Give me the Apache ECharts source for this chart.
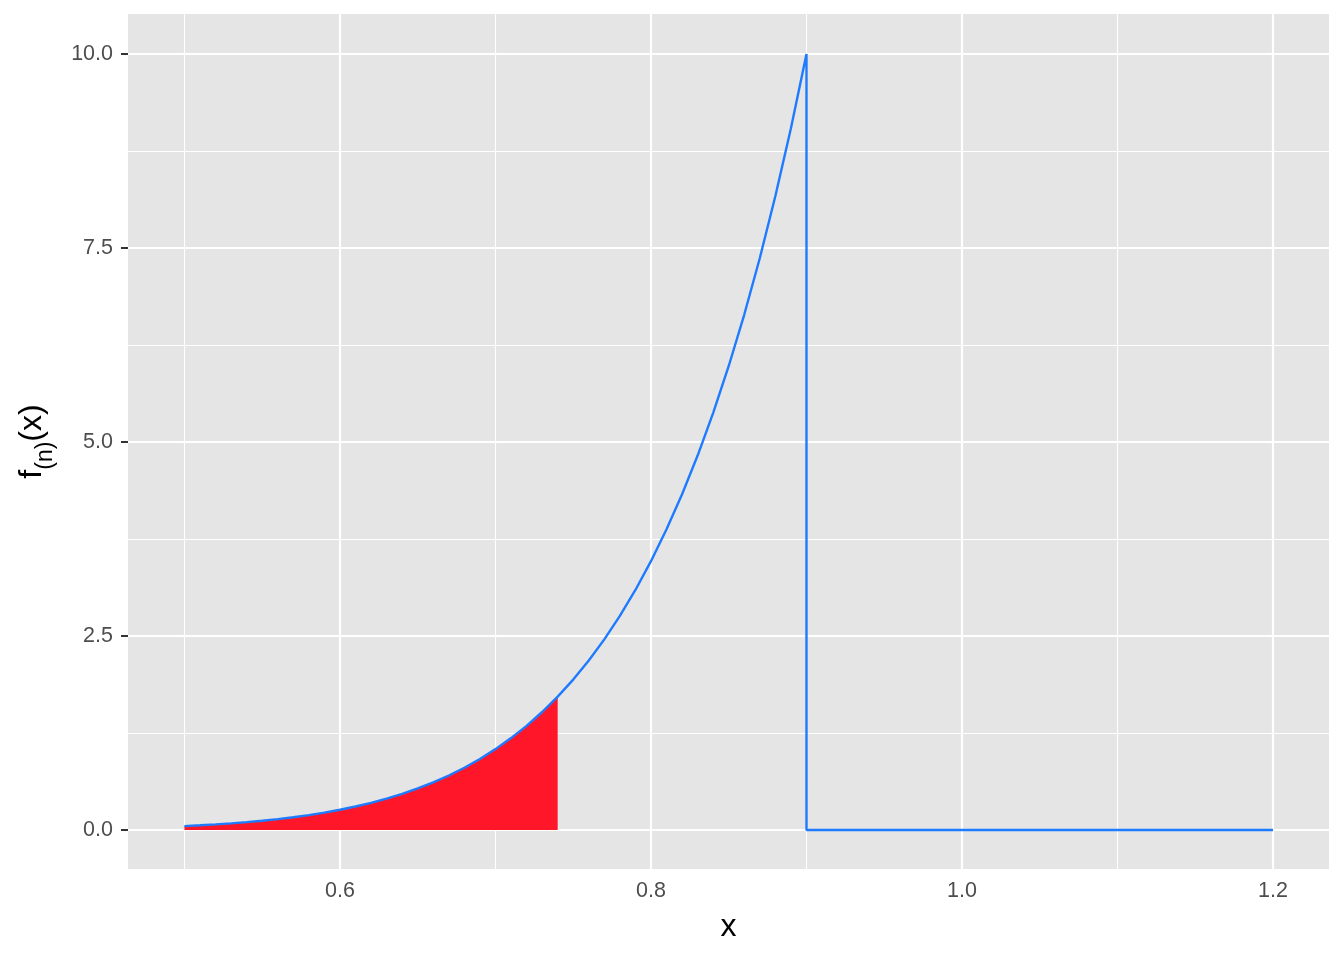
<!DOCTYPE html>
<html>
<head>
<meta charset="utf-8">
<script src="https://cdn.jsdelivr.net/npm/echarts@6/dist/echarts.min.js"></script>
<style>
  html, body { margin: 0; padding: 0; background: #fff; }
  #chart { width: 1344px; height: 960px; }
</style>
</head>
<body>
<div id="chart"></div>
<script>
// density curve, x = 0.50 .. 0.90 in steps of 0.01
var curveX = [0.50, 0.51, 0.52, 0.53, 0.54, 0.55, 0.56, 0.57, 0.58, 0.59,
              0.60, 0.61, 0.62, 0.63, 0.64, 0.65, 0.66, 0.67, 0.68, 0.69,
              0.70, 0.71, 0.72, 0.73, 0.74, 0.75, 0.76, 0.77, 0.78, 0.79,
              0.80, 0.81, 0.82, 0.83, 0.84, 0.85, 0.86, 0.87, 0.88, 0.89, 0.90];
var curveY = [0.050, 0.060, 0.072, 0.085, 0.101, 0.119, 0.140, 0.164, 0.192, 0.223,
              0.260, 0.302, 0.349, 0.404, 0.465, 0.535, 0.613, 0.702, 0.802, 0.915,
              1.042, 1.184, 1.342, 1.520, 1.718, 1.938, 2.183, 2.456, 2.759, 3.093,
              3.464, 3.874, 4.327, 4.825, 5.375, 5.979, 6.642, 7.370, 8.169, 9.043, 10.0];
// after the drop the density is zero
var tailX = [0.90, 1.20];
var tailY = [0, 0];
// shaded region ends here
var shadeEnd = 0.74;

var xTicks = [0.6, 0.8, 1.0, 1.2];
var xMinor = [0.5, 0.7, 0.9, 1.1];
var yTicks = [0, 2.5, 5.0, 7.5, 10.0];
var yMinor = [1.25, 3.75, 6.25, 8.75];

var linePts = curveX.map(function (x, i) { return [x, curveY[i]]; })
  .concat(tailX.map(function (x, i) { return [x, tailY[i]]; }));
var shadePts = [];
curveX.forEach(function (x, i) { if (x <= shadeEnd + 1e-9) shadePts.push([x, curveY[i]]); });
shadePts.push([shadeEnd, 0]);

var gridLines = [];
xMinor.forEach(function (v) { gridLines.push({ xAxis: v, lineStyle: { width: 1.1 } }); });
yMinor.forEach(function (v) { gridLines.push({ yAxis: v, lineStyle: { width: 1.1 } }); });
xTicks.forEach(function (v) { gridLines.push({ xAxis: v, lineStyle: { width: 2.2 } }); });
yTicks.forEach(function (v) { gridLines.push({ yAxis: v, lineStyle: { width: 2.2 } }); });

var myChart = echarts.init(document.getElementById('chart'));
var option = {
  animation: false,
  grid: {
    left: 128, right: 15, top: 14, bottom: 91,
    show: true, backgroundColor: '#E5E5E5', borderWidth: 0
  },
  xAxis: {
    type: 'value',
    min: 0.4637, max: 1.236,
    name: 'x', nameLocation: 'middle', nameGap: 42,
    nameTextStyle: { fontSize: 32, color: '#000', fontFamily: 'Liberation Sans' },
    axisLine: { show: false },
    splitLine: { show: false },
    axisTick: { show: true, length: 7, customValues: xTicks, lineStyle: { color: '#333', width: 2 } },
    axisLabel: {
      customValues: xTicks, margin: 11, fontSize: 21.5, color: '#4D4D4D', fontFamily: 'Liberation Sans',
      formatter: function (v) { return v.toFixed(1); }
    }
  },
  yAxis: {
    type: 'value',
    min: -0.503, max: 10.515,
    name: '{m|f}{s|(n)}{m|(x)}', nameLocation: 'middle', nameGap: 80, nameRotate: 90,
    nameTextStyle: {
      color: '#000', fontFamily: 'Liberation Sans',
      rich: {
        m: { fontSize: 32, color: '#000', fontFamily: 'Liberation Sans', verticalAlign: 'bottom' },
        s: { fontSize: 23, color: '#000', fontFamily: 'Liberation Sans', verticalAlign: 'bottom', padding: [0, 0, -9, 0] }
      }
    },
    axisLine: { show: false },
    splitLine: { show: false },
    axisTick: { show: true, length: 7, customValues: yTicks, lineStyle: { color: '#333', width: 2 } },
    axisLabel: {
      customValues: yTicks, margin: 15, fontSize: 21.5, color: '#4D4D4D', fontFamily: 'Liberation Sans',
      formatter: function (v) { return v.toFixed(1); }
    }
  },
  series: [
    {
      name: 'grid', type: 'line', data: [], z: 1, silent: true,
      markLine: {
        z: 1, silent: true, symbol: 'none', animation: false,
        label: { show: false },
        lineStyle: { color: '#FFFFFF', type: 'solid', opacity: 1 },
        data: gridLines
      }
    },
    {
      name: 'shade', type: 'line', data: shadePts, z: 10, symbol: 'none', smooth: false,
      lineStyle: { width: 0 },
      areaStyle: { color: '#FF1628', opacity: 1 }
    },
    {
      name: 'density', type: 'line', data: linePts, z: 11, symbol: 'none', smooth: false,
      lineStyle: { color: '#1E7BFF', width: 2.4 }
    }
  ]
};
myChart.setOption(option);
</script>
</body>
</html>
